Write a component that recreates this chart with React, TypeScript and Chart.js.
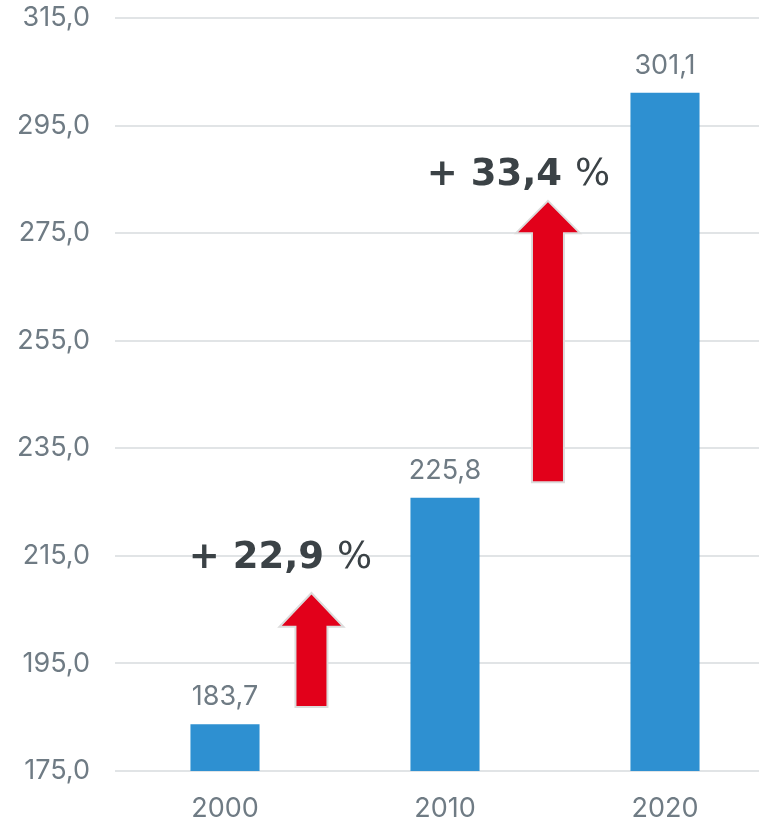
import React, { useEffect, useRef } from "react";
import { Chart, registerables } from "chart.js";

Chart.register(...registerables);

const categories = ["2000", "2010", "2020"];
const values = [183.7, 225.8, 301.1];
const yMin = 175;
const yMax = 315;
const yStep = 20;

// arrows: x position in category units, base value, head base value, tip value
const arrowX = [0.393, 1.468];
const arrowBase = [186.9, 228.7];
const arrowHeadBase = [201.8, 275.0];
const arrowTip = [208.1, 281.0];

// annotations
const noteX = [0.252, 1.334];
const noteY = [214.6, 285.8];
const noteNumbers = ["22,9", "33,4"];

const FONT = "Inter, 'Noto Sans', sans-serif";
const NOTE_FONT = "'DejaVu Sans', sans-serif";
const TICK_COLOR = "#6f7b84";
const fmt = (v: number) => v.toFixed(1).replace(".", ",");

const overlayPlugin = {
  id: "overlay",
  afterDatasetsDraw(chart: any) {
    const ctx = chart.ctx;
    const xs = chart.scales.x;
    const ys = chart.scales.y;
    const meta = chart.getDatasetMeta(0);
    ctx.save();
    ctx.font = `27px ${FONT}`;
    ctx.fillStyle = TICK_COLOR;
    ctx.textAlign = "center";
    ctx.textBaseline = "middle";
    meta.data.forEach((bar: any, i: number) => {
      ctx.fillText(fmt(values[i]), bar.x, bar.y - 27);
    });
    for (let i = 0; i < arrowX.length; i++) {
      const cx = xs.getPixelForValue(arrowX[i]);
      const yb = ys.getPixelForValue(arrowBase[i]);
      const yh = ys.getPixelForValue(arrowHeadBase[i]);
      const yt = ys.getPixelForValue(arrowTip[i]);
      const sw = 16;
      const hw = 32;
      ctx.beginPath();
      ctx.moveTo(cx - sw, yb);
      ctx.lineTo(cx - sw, yh);
      ctx.lineTo(cx - hw, yh);
      ctx.lineTo(cx, yt);
      ctx.lineTo(cx + hw, yh);
      ctx.lineTo(cx + sw, yh);
      ctx.lineTo(cx + sw, yb);
      ctx.closePath();
      ctx.fillStyle = "#e2001a";
      ctx.fill();
      ctx.lineWidth = 2;
      ctx.strokeStyle = "#dcdcdc";
      ctx.stroke();
    }
    for (let i = 0; i < noteX.length; i++) {
      const cx = xs.getPixelForValue(noteX[i]);
      const cy = ys.getPixelForValue(noteY[i]);
      const boldPart = "+ " + noteNumbers[i] + " ";
      const regPart = "%";
      ctx.font = `bold 37px ${NOTE_FONT}`;
      const w1 = ctx.measureText(boldPart).width;
      ctx.font = `37px ${NOTE_FONT}`;
      const w2 = ctx.measureText(regPart).width;
      const left = cx - (w1 + w2) / 2;
      ctx.textAlign = "left";
      ctx.fillStyle = "#3b4246";
      ctx.font = `bold 37px ${NOTE_FONT}`;
      ctx.fillText(boldPart, left, cy);
      ctx.font = `37px ${NOTE_FONT}`;
      ctx.fillText(regPart, left + w1, cy);
    }
    ctx.restore();
  },
};

export default function App() {
  const ref = useRef<HTMLCanvasElement>(null);
  useEffect(() => {
    if (!ref.current) return;
    const chart = new Chart(ref.current, {
      type: "bar",
      data: {
        labels: categories,
        datasets: [
          {
            data: values,
            backgroundColor: "#2e90d1",
            barPercentage: 0.314,
            categoryPercentage: 1,
          },
        ],
      },
      options: {
        animation: false,
        responsive: true,
        maintainAspectRatio: false,
        layout: { padding: 0 },
        plugins: { legend: { display: false }, tooltip: { enabled: false } },
        scales: {
          x: {
            offset: true,
            grid: { display: false },
            border: { display: false },
            ticks: {
              color: TICK_COLOR,
              font: { family: FONT, size: 27 },
              padding: 14,
            },
            afterFit: (s: any) => {
              s.height = 48;
            },
          },
          y: {
            min: yMin,
            max: yMax,
            grid: { color: "#e1e4e6", lineWidth: 2, drawTicks: false },
            border: { display: false },
            ticks: {
              stepSize: yStep,
              color: TICK_COLOR,
              font: { family: FONT, size: 27 },
              padding: 25,
              callback: (v: any) => fmt(Number(v)),
            },
            afterFit: (s: any) => {
              s.width = 115;
              s.paddingTop = 18;
              s.paddingBottom = 18;
            },
          },
        },
      },
      plugins: [overlayPlugin],
    });
    return () => chart.destroy();
  }, []);
  return (
    <div style={{ position: "fixed", left: 0, top: 0, width: 775, height: 819 }}>
      <canvas ref={ref} />
    </div>
  );
}
